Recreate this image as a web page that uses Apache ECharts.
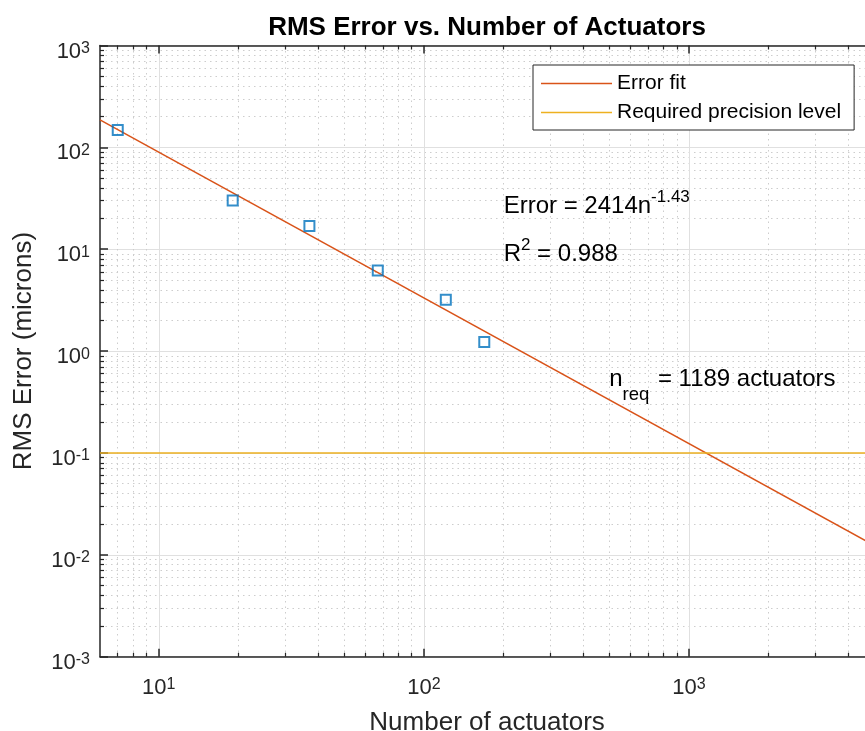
<!DOCTYPE html>
<html>
<head>
<meta charset="utf-8">
<script src="https://cdn.jsdelivr.net/npm/echarts@6/dist/echarts.min.js"></script>
<style>
  html, body { margin: 0; padding: 0; background: #ffffff; }
  #chart { width: 865px; height: 731px; }
</style>
</head>
<body>
<div id="chart"></div>
<script>
// Measured RMS error for each actuator count
const actuators = [7, 19, 37, 67, 121, 169];
const rmsError = [148, 30.1, 16.9, 6.19, 3.19, 1.23];

// Power-law fit  Error = fitCoef * n ^ fitExponent
const fitCoef = 2414;
const fitExponent = -1.43;
const fitR2 = 0.988;
const nRequired = 1189;
const requiredLevel = 0.1;

// Axis ranges and tick values
const xRange = [6, 5000];
const yRange = [0.001, 1000];
const xMajorTicks = [10, 100, 1000];
const xMinorTicks = [7, 8, 9, 20, 30, 40, 50, 60, 70, 80, 90,
  200, 300, 400, 500, 600, 700, 800, 900, 2000, 3000, 4000];
const yMajorTicks = [0.001, 0.01, 0.1, 1, 10, 100, 1000];
const yMinorTicks = [
  0.002, 0.003, 0.004, 0.005, 0.006, 0.007, 0.008, 0.009,
  0.02, 0.03, 0.04, 0.05, 0.06, 0.07, 0.08, 0.09,
  0.2, 0.3, 0.4, 0.5, 0.6, 0.7, 0.8, 0.9,
  2, 3, 4, 5, 6, 7, 8, 9,
  20, 30, 40, 50, 60, 70, 80, 90,
  200, 300, 400, 500, 600, 700, 800, 900];

const FONT = '"Liberation Sans", Arial, Helvetica, sans-serif';
const AXIS_COLOR = '#262626';
const MAJOR_GRID = '#e0e0e0';
const MINOR_GRID = '#cdcdcd';

const points = actuators.map((n, i) => [n, rmsError[i]]);
const fitLine = xRange.map(n => [n, fitCoef * Math.pow(n, fitExponent)]);
const requiredLine = xRange.map(n => [n, requiredLevel]);

const powerLabel = v => '{b|10}{s|' + Math.round(Math.log10(v)) + '}';
const powerRich = {
  b: { fontSize: 22, fontFamily: FONT, color: AXIS_COLOR, lineHeight: 22, verticalAlign: 'bottom' },
  s: { fontSize: 16, fontFamily: FONT, color: AXIS_COLOR, lineHeight: 8, verticalAlign: 'top' }
};

function majorAxis(position, withLabels, extra) {
  const isX = position === 'bottom' || position === 'top';
  return Object.assign({
    type: 'log',
    logBase: 10,
    min: isX ? xRange[0] : yRange[0],
    max: isX ? xRange[1] : yRange[1],
    position: position,
    axisLine: { show: true, lineStyle: { color: AXIS_COLOR, width: 1.5 } },
    axisTick: {
      show: true, inside: true, length: 8,
      customValues: isX ? xMajorTicks : yMajorTicks,
      lineStyle: { color: AXIS_COLOR, width: 1.5 }
    },
    axisLabel: withLabels ? {
      show: true,
      customValues: isX ? xMajorTicks : yMajorTicks,
      formatter: powerLabel,
      rich: powerRich,
      margin: isX ? 20 : 10,
      padding: isX ? [0, 0, 0, 0] : [12, 0, 0, 0]
    } : { show: false },
    splitLine: withLabels ? { show: true, lineStyle: { color: MAJOR_GRID, width: 1 } } : { show: false },
    minorTick: { show: false },
    minorSplitLine: { show: false }
  }, extra || {});
}

function minorAxis(position, withGrid) {
  const isX = position === 'bottom' || position === 'top';
  return {
    type: 'log',
    logBase: 10,
    min: isX ? xRange[0] : yRange[0],
    max: isX ? xRange[1] : yRange[1],
    position: position,
    axisLine: { show: false },
    axisTick: {
      show: true, inside: true, length: 4,
      customValues: isX ? xMinorTicks : yMinorTicks,
      lineStyle: { color: AXIS_COLOR, width: 1.2 }
    },
    axisLabel: { show: false },
    splitLine: withGrid ? { show: true, lineStyle: { color: MINOR_GRID, width: 1, type: [1.5, 4] } } : { show: false }
  };
}

const chart = echarts.init(document.getElementById('chart'), null, { renderer: 'canvas' });

chart.setOption({
  backgroundColor: '#ffffff',
  animation: false,
  title: {
    text: 'RMS Error vs. Number of Actuators',
    left: 482,
    top: 10,
    textAlign: 'center',
    textStyle: { fontFamily: FONT, fontSize: 26, fontWeight: 'bold', color: '#000000' }
  },
  grid: {
    left: 100,
    top: 45.5,
    right: -9.2,
    bottom: 74.3,
    containLabel: false,
    outerBoundsMode: 'none'
  },
  legend: {
    data: ['Error fit', 'Required precision level'],
    orient: 'vertical',
    left: 533,
    top: 65,
    padding: [8, 13, 7, 8],
    icon: 'rect',
    itemWidth: 71,
    itemHeight: 1.5,
    itemGap: 8,
    backgroundColor: '#ffffff',
    borderColor: AXIS_COLOR,
    borderWidth: 1,
    borderRadius: 0,
    textStyle: { fontFamily: FONT, fontSize: 21, color: '#000000' }
  },
  xAxis: [
    majorAxis('bottom', true, {
      name: 'Number of actuators',
      nameLocation: 'middle',
      nameGap: 53,
      nameTextStyle: { fontFamily: FONT, fontSize: 26, color: AXIS_COLOR }
    }),
    minorAxis('bottom', true),
    majorAxis('top', false),
    minorAxis('top', false)
  ],
  yAxis: [
    majorAxis('left', true, {
      name: 'RMS Error (microns)',
      nameLocation: 'middle',
      nameGap: 63,
      nameTextStyle: { fontFamily: FONT, fontSize: 26, color: AXIS_COLOR }
    }),
    minorAxis('left', true)
  ],
  series: [
    {
      name: 'Error fit',
      type: 'line',
      data: fitLine,
      symbol: 'none',
      lineStyle: { color: '#D95319', width: 1.5 },
      itemStyle: { color: '#D95319' },
      z: 3
    },
    {
      name: 'Required precision level',
      type: 'line',
      data: requiredLine,
      symbol: 'none',
      lineStyle: { color: '#EDB120', width: 1.5 },
      itemStyle: { color: '#EDB120' },
      z: 3
    },
    {
      name: 'RMS error',
      type: 'scatter',
      data: points,
      symbol: 'rect',
      symbolSize: 10,
      itemStyle: { color: 'rgba(0,0,0,0)', borderColor: '#0072BD', borderWidth: 2 },
      z: 4,
      markPoint: {
        symbol: 'circle',
        symbolSize: 0,
        silent: true,
        label: {
          show: true,
          position: 'right',
          distance: 0,
          fontFamily: FONT,
          fontSize: 24,
          color: '#000000',
          rich: {
            t: { fontFamily: FONT, fontSize: 24, color: '#000000' },
            sup: { fontFamily: FONT, fontSize: 17, color: '#000000', padding: [0, 0, 18, 0] },
            sub: { fontFamily: FONT, fontSize: 18.5, color: '#000000', padding: [32, 2, 0, 0] }
          }
        },
        data: [
          { coord: [200, 26.6], value: 0,
            label: { formatter: '{t|Error = ' + fitCoef + 'n}{sup|' + fitExponent.toFixed(2) + '}' } },
          { coord: [200, 9.0], value: 0,
            label: { formatter: '{t|R}{sup|2}{t| = ' + fitR2.toFixed(3) + '}' } },
          { coord: [500, 0.532], value: 0,
            label: { formatter: '{t|n}{sub|req}{t| = ' + nRequired + ' actuators}' } }
        ]
      }
    }
  ]
});
</script>
</body>
</html>
